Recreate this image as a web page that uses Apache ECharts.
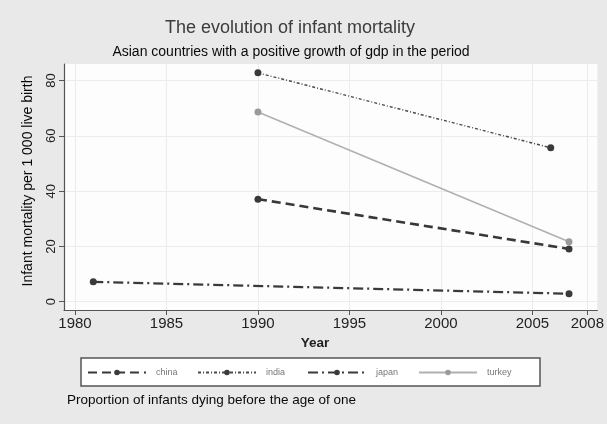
<!DOCTYPE html>
<html>
<head>
<meta charset="utf-8">
<script src="https://cdn.jsdelivr.net/npm/echarts@6/dist/echarts.min.js"></script>
<style>
  html, body { margin: 0; padding: 0; background: #e9e9e9; }
  #chart { width: 607px; height: 424px; }
</style>
</head>
<body>
<div id="chart"></div>
<script>
// ---- data ----
const chinaYears  = [1990, 2007];
const chinaValues = [37.1, 19.1];
const indiaYears  = [1990, 2006];
const indiaValues = [82.8, 55.7];
const japanYears  = [1981, 2007];
const japanValues = [7.2, 2.9];
const turkeyYears  = [1990, 2007];
const turkeyValues = [68.6, 21.7];

const xTicks = [1980, 1985, 1990, 1995, 2000, 2005, 2008];
const yTicks = [0, 20, 40, 60, 80];
const seriesNames = ['china', 'india', 'japan', 'turkey'];

const titleText = 'The evolution of infant mortality';
const subtitleText = 'Asian countries with a positive growth of gdp in the period';
const yAxisTitle = 'Infant mortality per 1 000 live birth';
const xAxisTitle = 'Year';
const noteText = 'Proportion of infants dying before the age of one';

function pairs(xs, ys) { return xs.map((x, i) => [x, ys[i]]); }

const styles = {
  china:  { color: '#383838', width: 2.6, type: [9, 5], sym: '#3a3a3a' },
  india:  { color: '#4a4a4a', width: 1.4, type: [3, 2, 1, 2], sym: '#3a3a3a' },
  japan:  { color: '#3a3a3a', width: 2.2, type: [10, 4, 2, 4], sym: '#3a3a3a' },
  turkey: { color: '#b0b0b0', width: 1.6, type: 'solid', sym: '#9a9a9a' }
};
const dataMap = {
  china: pairs(chinaYears, chinaValues),
  india: pairs(indiaYears, indiaValues),
  japan: pairs(japanYears, japanValues),
  turkey: pairs(turkeyYears, turkeyValues)
};

const series = seriesNames.map(n => ({
  name: n,
  type: 'line',
  data: dataMap[n],
  symbol: 'circle',
  symbolSize: 7,
  itemStyle: { color: styles[n].sym },
  lineStyle: { color: styles[n].color, width: styles[n].width, type: styles[n].type },
  emphasis: { disabled: true },
  z: 3
}));

const legendLefts = [87, 197, 307, 418];
const legends = seriesNames.map((n, i) => ({
  data: [n],
  left: legendLefts[i],
  top: 368,
  itemWidth: 58,
  itemHeight: 7,
  itemGap: 0,
  padding: 0,
  textStyle: { fontSize: 9, color: '#777', fontFamily: 'Liberation Sans', padding: [0, 0, 0, 5] },
  selectedMode: false
}));

const chart = echarts.init(document.getElementById('chart'), null, { renderer: 'canvas' });
chart.setOption({
  backgroundColor: '#e9e9e9',
  animation: false,
  title: [
    { text: titleText, left: 285, top: 14, textAlign: 'center',
      textStyle: { fontSize: 18, fontWeight: 'normal', color: '#3c3c3c', fontFamily: 'Liberation Sans' } },
    { text: subtitleText, left: 286, top: 40, textAlign: 'center',
      textStyle: { fontSize: 14, fontWeight: 'normal', color: '#0a0a0a', fontFamily: 'Liberation Sans' } }
  ],
  legend: legends,
  grid: { left: 64, top: 64, right: 7, bottom: 114, show: true, backgroundColor: '#fdfdfd', borderWidth: 0 },
  xAxis: {
    type: 'value', min: 1979.4, max: 2008.55,
    axisLine: { show: true, onZero: false, lineStyle: { color: '#555', width: 1.2 } },
    axisTick: { show: true, length: 5, customValues: xTicks, lineStyle: { color: '#555' } },
    axisLabel: { customValues: xTicks, fontSize: 15, color: '#222', margin: 6, fontFamily: 'Liberation Sans',
      formatter: v => String(v) },
    splitLine: { show: true, lineStyle: { color: '#ececec', width: 1 } }
  },
  yAxis: {
    type: 'value', min: -3, max: 86,
    axisLine: { show: true, onZero: false, lineStyle: { color: '#555', width: 1.2 } },
    axisTick: { show: true, length: 5, customValues: yTicks, lineStyle: { color: '#555' } },
    axisLabel: { customValues: yTicks, fontSize: 13, color: '#222', rotate: 90, margin: 6, fontFamily: 'Liberation Sans' },
    splitLine: { show: true, lineStyle: { color: '#ececec', width: 1 } }
  },
  graphic: [
    { type: 'text', x: 28, y: 181, rotation: Math.PI / 2,
      style: { text: yAxisTitle, fontSize: 14, fill: '#0a0a0a', fontFamily: 'Liberation Sans',
        textAlign: 'center', textVerticalAlign: 'middle' } },
    { type: 'text', x: 315, y: 343,
      style: { text: xAxisTitle, fontSize: 13.5, fontWeight: 'bold', fill: '#222', fontFamily: 'Liberation Sans',
        textAlign: 'center', textVerticalAlign: 'middle' } },
    { type: 'rect', shape: { x: 81, y: 358, width: 459, height: 28 },
      style: { fill: '#ffffff', stroke: '#555', lineWidth: 1.5 }, z: -1 },
    { type: 'text', x: 67, y: 400,
      style: { text: noteText, fontSize: 13.5, fill: '#0a0a0a', fontFamily: 'Liberation Sans',
        textAlign: 'left', textVerticalAlign: 'middle' } }
  ],
  series: series
});
</script>
</body>
</html>
